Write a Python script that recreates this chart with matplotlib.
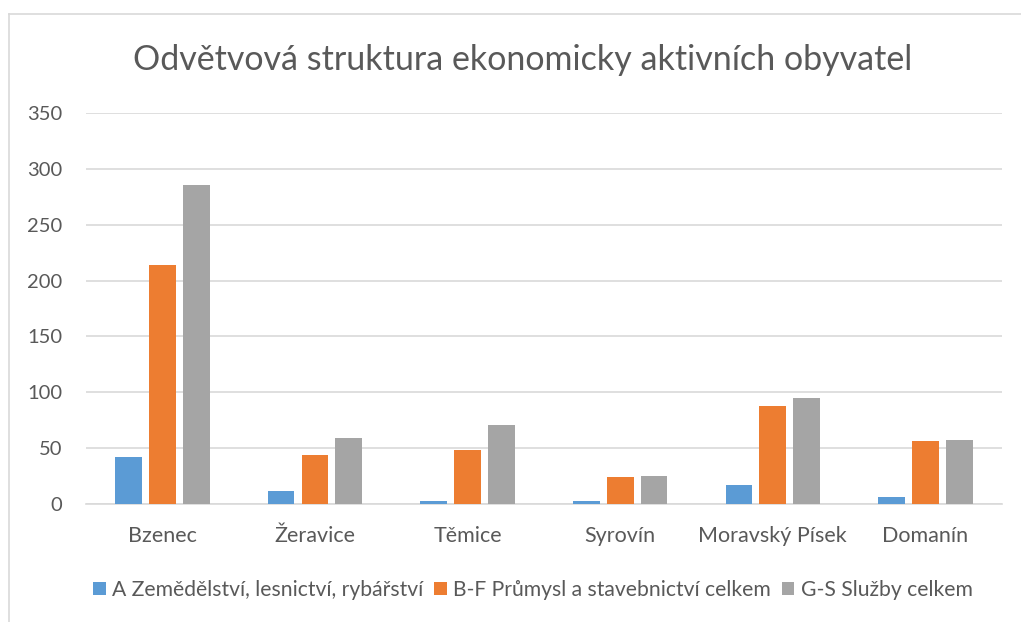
import matplotlib
matplotlib.use('Agg')
import matplotlib.pyplot as plt
import numpy as np
from matplotlib.lines import Line2D
from matplotlib.patches import Patch

# Data
obce = ['Bzenec', 'Žeravice', 'Těmice', 'Syrovín', 'Moravský Písek', 'Domanín']
zemedelstvi = [42, 12, 3, 3, 17, 6]
prumysl = [214, 44, 48, 24, 88, 56]
sluzby = [286, 59, 71, 25, 95, 57]
serie = ['A Zemědělství, lesnictví, rybářství',
         'B-F Průmysl a stavebnictví celkem',
         'G-S Služby celkem']
barvy = ['#5B9BD5', '#ED7D31', '#A5A5A5']

plt.rcParams['font.family'] = ['Lato', 'DejaVu Sans']
text_color = '#595959'

fig = plt.figure(figsize=(10.21, 6.22), dpi=100)
ax = fig.add_axes([0.0842, 0.1897, 0.897, 0.6286])

x = np.arange(len(obce))
w = 0.175
step = 0.222
for i, (vals, c) in enumerate(zip([zemedelstvi, prumysl, sluzby], barvy)):
    ax.bar(x + (i - 1) * step, vals, width=w, color=c, edgecolor='none',
           zorder=3)

ax.set_xlim(-0.5, len(obce) - 0.5)
ax.set_ylim(0, 350)
ax.set_yticks(range(0, 351, 50))
ax.set_xticks(x)
ax.set_xticklabels(obce)
ax.grid(axis='y', color='#D9D9D9', linewidth=1.2, zorder=0)
for s in ['top', 'right', 'left']:
    ax.spines[s].set_visible(False)
ax.spines['bottom'].set_color('#D9D9D9')
ax.spines['bottom'].set_linewidth(1.2)
ax.tick_params(length=0, colors=text_color)
ax.tick_params(axis='y', pad=17, labelsize=14.5)
ax.tick_params(axis='x', pad=16, labelsize=15.5)

fig.text(0.5118, 0.9035, 'Odvětvová struktura ekonomicky aktivních obyvatel',
         ha='center', va='center', fontsize=24.5, color=text_color)

handles = [Patch(facecolor=c, edgecolor='none') for c in barvy]
fig.legend(handles, serie, loc='center', bbox_to_anchor=(0.522, 0.0514),
           ncol=3, frameon=False, fontsize=15.2, handlelength=0.6,
           handleheight=0.6, handletextpad=0.3, columnspacing=0.5,
           labelcolor=text_color)

# chart frame (only top and left edges are visible in the source)
fig.add_artist(Line2D([9 / 1021, 1], [1 - 13.5 / 622, 1 - 13.5 / 622],
                      color='#D9D9D9', lw=1.2))
fig.add_artist(Line2D([9 / 1021, 9 / 1021], [0, 1 - 13.5 / 622],
                      color='#D9D9D9', lw=1.2))

fig.savefig('out.png', dpi=100)
